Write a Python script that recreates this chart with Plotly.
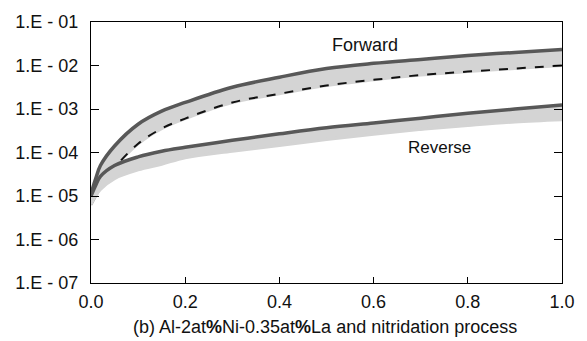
import plotly.graph_objects as go

x = [0.0, 0.01, 0.02, 0.05, 0.1, 0.15, 0.2, 0.3, 0.4, 0.5, 0.6, 0.7, 0.8, 0.9, 1.0]

# log10 of current density values
forward_upper_log = [-4.95, -4.6, -4.3, -3.85, -3.35, -3.05, -2.85, -2.5, -2.27, -2.07, -1.95, -1.86, -1.77, -1.70, -1.63]
forward_lower_log = [-5.2, -5.0, -4.8, -4.35, -3.8, -3.45, -3.22, -2.85, -2.65, -2.46, -2.33, -2.22, -2.14, -2.07, -2.0]
reverse_upper_log = [-5.0, -4.75, -4.55, -4.3, -4.1, -3.97, -3.88, -3.72, -3.57, -3.43, -3.32, -3.21, -3.10, -3.0, -2.91]
reverse_lower_log = [-5.2, -5.0, -4.85, -4.6, -4.4, -4.27, -4.12, -3.97, -3.84, -3.70, -3.58, -3.47, -3.38, -3.30, -3.25]

y_tickvals = [1e-7, 1e-6, 1e-5, 1e-4, 1e-3, 1e-2, 1e-1]
y_ticktext = ["1.E - 07", "1.E - 06", "1.E - 05", "1.E - 04", "1.E - 03", "1.E - 02", "1.E - 01"]
x_tickvals = [0.0, 0.2, 0.4, 0.6, 0.8, 1.0]
x_ticktext = ["0.0", "0.2", "0.4", "0.6", "0.8", "1.0"]

def p(v):
    return [10 ** a for a in v]

LIGHT = "#d4d4d4"
DARK = "#585858"
FONT = "Arial, Liberation Sans, sans-serif"

fig = go.Figure()
for up, lo, black in [(forward_upper_log, forward_lower_log, True), (reverse_upper_log, reverse_lower_log, False)]:
    fig.add_trace(go.Scatter(x=x, y=p(lo), mode="lines", line=dict(color=LIGHT, width=3, shape="spline"),
                             showlegend=False, hoverinfo="skip"))
    fig.add_trace(go.Scatter(x=x, y=p(up), mode="lines", line=dict(color=LIGHT, width=0, shape="spline"),
                             fill="tonexty", fillcolor=LIGHT, showlegend=False, hoverinfo="skip"))
    if black:
        fig.add_trace(go.Scatter(x=x, y=p(lo), mode="lines", line=dict(color="#111", width=2, dash="dash", shape="spline"),
                                 showlegend=False, hoverinfo="skip"))
    fig.add_trace(go.Scatter(x=x, y=p(up), mode="lines", line=dict(color=DARK, width=3.5, shape="spline"),
                             showlegend=False, hoverinfo="skip"))

fig.add_annotation(x=0.582, y=-1.54, text="Forward", showarrow=False, font=dict(family=FONT, size=18, color="#111"))
fig.add_annotation(x=0.739, y=-3.88, text="Reverse", showarrow=False, font=dict(family=FONT, size=17, color="#111"))
fig.add_annotation(xref="paper", yref="paper", x=0.496, y=-0.169, xanchor="center", yanchor="middle",
                   text="(b) Al-2at<b>%</b>Ni-0.35at<b>%</b>La and nitridation process", showarrow=False,
                   font=dict(family=FONT, size=18, color="#111"))

fig.update_layout(
    width=587, height=341,
    margin=dict(l=91, r=19, t=17, b=58),
    paper_bgcolor="white", plot_bgcolor="white",
    font=dict(family=FONT, size=18, color="#111"),
)
fig.update_xaxes(range=[0, 1], tickvals=x_tickvals, ticktext=x_ticktext, ticks="inside", ticklen=6,
                 tickcolor="black", showline=True, linecolor="black", linewidth=1, mirror="ticks",
                 showgrid=False, zeroline=False, tickfont=dict(size=18), ticklabelstandoff=2)
fig.update_yaxes(type="log", range=[-7, -1], tickvals=y_tickvals, ticktext=y_ticktext, ticks="inside", ticklen=8,
                 tickcolor="black", showline=True, linecolor="black", linewidth=1, mirror="ticks",
                 showgrid=False, zeroline=False, tickfont=dict(size=18), ticklabelstandoff=8)

fig.write_html("out.html")
